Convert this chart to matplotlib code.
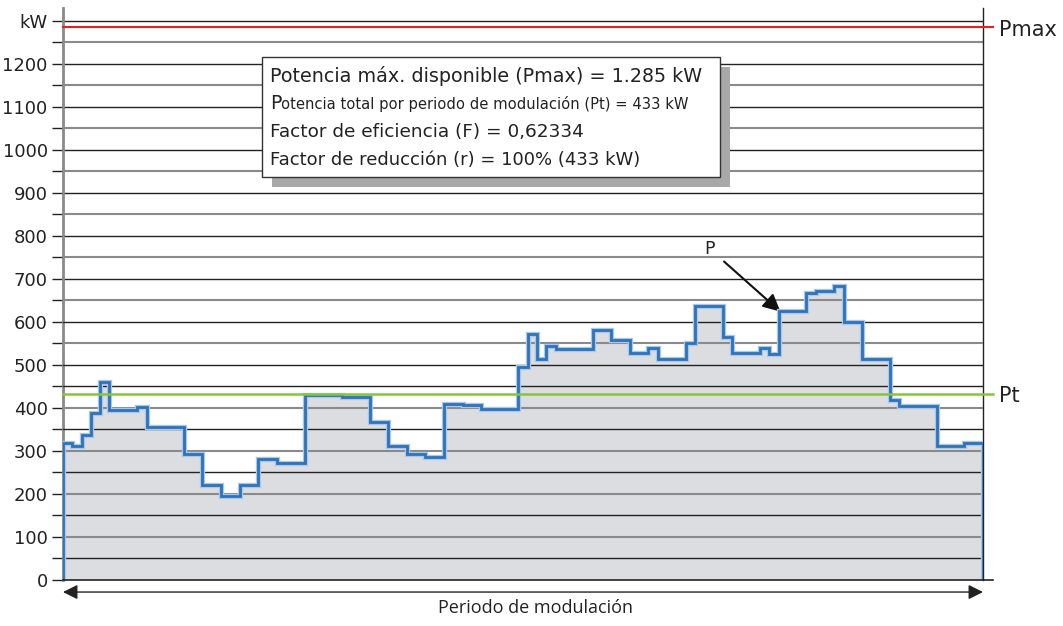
import numpy as np
import matplotlib
matplotlib.use("Agg")
import matplotlib.pyplot as plt
from matplotlib.patches import Rectangle
from matplotlib.transforms import offset_copy

plt.rcParams['font.family'] = ['DejaVu Sans']

# Perfil de potencia por tramos (inicio del tramo en periodos, potencia en kW)
inicio = [0, 1, 2, 3, 4, 5, 8, 9, 13, 15, 17, 19, 21, 23, 26, 30, 33, 35, 37, 39,
          41, 43, 45, 49, 50, 51, 52, 53, 57, 59, 61, 63, 64, 67, 68, 71, 72, 75,
          76, 77, 80, 81, 83, 84, 86, 89, 90, 94, 97]
potencia = [318, 312, 337, 389, 460, 395, 402, 356, 293, 220, 196, 220, 281, 271,
            430, 426, 368, 312, 293, 287, 410, 408, 398, 496, 572, 515, 544, 538,
            581, 557, 528, 540, 515, 552, 636, 564, 527, 539, 526, 626, 667, 672,
            684, 601, 513, 418, 404, 312, 318]
n_periodos = 99

pmax = 1285
pt = 433
ticks_y = list(range(0, 1400, 100))
etiquetas_y = [str(v) for v in ticks_y[:-1]] + ['kW']

fig = plt.figure(figsize=(10.63, 6.26), dpi=100)
ax = fig.add_axes([63 / 1063, 46 / 626, 920 / 1063, 572 / 626])
ax.set_xlim(0, n_periodos)
ax.set_ylim(0, 1330)


def linea_rejilla(v, z):
    oscura = (v % 100 == 0) if v >= 500 else (v % 100 != 0)
    ax.plot([0, n_periodos], [v, v], color='#222222' if oscura else '#8a8a8a',
            lw=1.0 if oscura else 1.5, zorder=z)


# rejilla cada 50 kW; por debajo de 700 se dibuja encima del relleno
for v in range(50, 1350, 50):
    linea_rejilla(v, 1 if v >= 700 else 3)

# perfil escalonado
borde = np.array(inicio + [n_periodos])
xs = np.repeat(borde, 2)
ys = np.concatenate([[0], np.repeat(potencia, 2), [0]])
ax.fill(xs, ys, color='#dcdde0', zorder=2)
ax.plot(xs, ys, color='#a9c8e8', lw=3.8, zorder=4, solid_joinstyle='miter')
ax.plot(xs, ys, color='#2f72b8', lw=2.0, zorder=5, solid_joinstyle='miter')

# Pmax y Pt
x_fin = n_periodos + 1.1
ax.plot([0, x_fin], [pmax, pmax], color='#e0202a', lw=1.5, clip_on=False, zorder=6)
ax.plot([0, x_fin], [pt, pt], color='#86c440', lw=1.8, clip_on=False, zorder=6)
ax.text(x_fin + 0.6, pmax - 5, 'Pmax', fontsize=15, va='center', ha='left', color='#222222')
ax.text(x_fin + 0.6, pt - 5, 'Pt', fontsize=15, va='center', ha='left', color='#222222')

# ejes
ax.set_yticks(ticks_y)
ax.set_yticklabels(etiquetas_y)
ax.set_yticks(range(50, 1350, 100), minor=True)
ax.tick_params(axis='y', which='both', length=8, width=1, color='#222222',
               labelsize=13, labelcolor='#222222', pad=3)
ax.set_xticks([])
for lado in ['top', 'bottom']:
    ax.spines[lado].set_visible(False)
ax.spines['left'].set_color('#8a8a8a')
ax.spines['left'].set_linewidth(2)
ax.spines['right'].set_color('#222222')
ax.spines['right'].set_linewidth(1)
ax.plot([0, x_fin], [0, 0], color='#222222', lw=1.2, clip_on=False, zorder=6)

# flecha del periodo de modulacion
ax.annotate('', xy=(0, -28), xytext=(n_periodos, -28), annotation_clip=False,
            arrowprops=dict(arrowstyle='<|-|>', color='#222222', lw=1,
                            mutation_scale=22, shrinkA=0, shrinkB=0))
ax.text(50.8, -65, 'Periodo de modulación', fontsize=13, family='Open Sans',
        ha='center', va='center', color='#222222')

# punto P
ax.annotate('P', xy=(77.2, 624), xytext=(69.6, 770), fontsize=12.5,
            ha='center', va='center', color='#222222',
            arrowprops=dict(arrowstyle='-|>', color='#111111', lw=1.5,
                            mutation_scale=26, shrinkA=6, shrinkB=0))

# cuadro de datos con sombra
fig.patches.append(Rectangle((272 / 1063, 1 - 187 / 626), 458 / 1063, 120 / 626,
                             transform=fig.transFigure, facecolor='#a8a8a8',
                             edgecolor='none', zorder=7))
fig.patches.append(Rectangle((262 / 1063, 1 - 177 / 626), 458 / 1063, 120 / 626,
                             transform=fig.transFigure, facecolor='white',
                             edgecolor='#333333', lw=1, zorder=8))
x0 = 270 / 1063
fig.text(x0, 1 - 82 / 626, 'Potencia máx. disponible (Pmax) = 1.285 kW',
         fontsize=13.8, va='baseline', color='#222222', zorder=9)
tp = fig.text(x0, 1 - 109 / 626, 'P', fontsize=13.5, va='baseline',
              color='#222222', zorder=9)
fig.canvas.draw()
ancho = tp.get_window_extent().width
fig.text(x0, 1 - 109 / 626, 'otencia total por periodo de modulación (Pt) = 433 kW',
         fontsize=10.6, va='baseline', color='#222222', zorder=9,
         transform=offset_copy(fig.transFigure, fig, x=ancho, y=0, units='dots'))
fig.text(x0, 1 - 137 / 626, 'Factor de eficiencia (F) = 0,62334',
         fontsize=13.3, va='baseline', color='#222222', zorder=9)
fig.text(x0, 1 - 165 / 626, 'Factor de reducción (r) = 100% (433 kW)',
         fontsize=13.0, va='baseline', color='#222222', zorder=9)

fig.savefig('out.png', dpi=100)
